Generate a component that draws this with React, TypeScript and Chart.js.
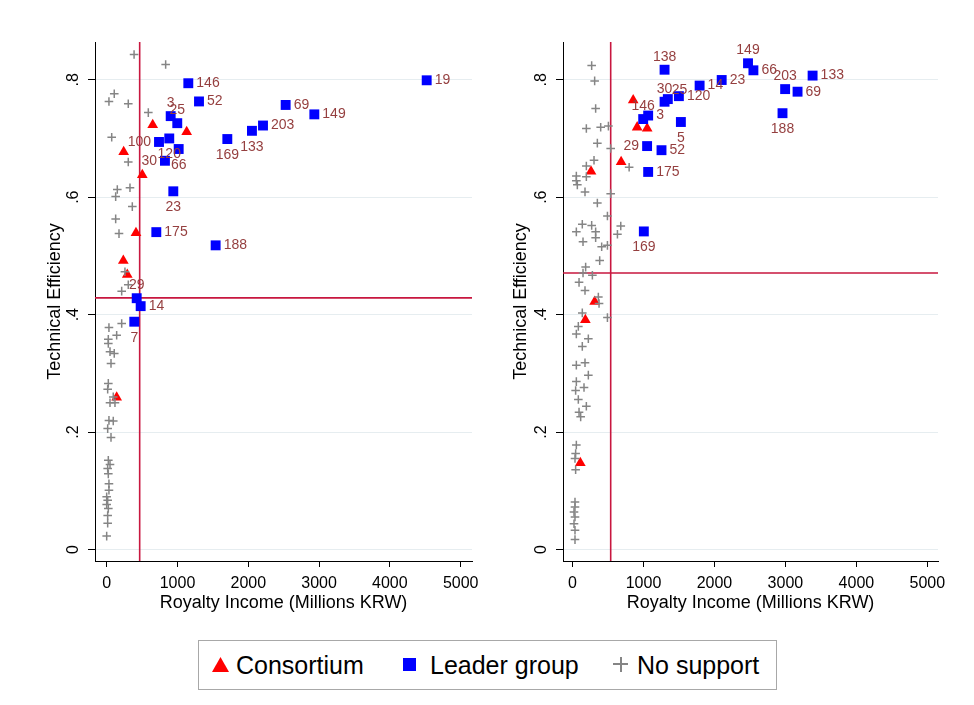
import React, { useEffect, useRef } from "react";
import { Chart, registerables } from "chart.js";

Chart.register(...registerables);

// ---------- shared axis data ----------
const xTicks = [0, 1000, 2000, 3000, 4000, 5000];
const yTicks = [0, 0.2, 0.4, 0.6, 0.8];
const yTickLabels = ["0", ".2", ".4", ".6", ".8"];

const seriesNames = ["Consortium", "Leader group", "No support"];

// ---------- left panel ----------
const leftConsortiumX = [650, 1130, 240, 503, 414, 235, 291, 141];
const leftConsortiumY = [0.723, 0.711, 0.677, 0.638, 0.539, 0.492, 0.468, 0.259];

const leftLeaderIds = ["19", "146", "52", "3", "25", "69", "149", "203", "133", "169", "100", "120", "30", "66", "23", "175", "188", "29", "14", "7"];
const leftLeaderX = [4520, 1153, 1304, 904, 997, 2528, 2933, 2208, 2052, 1704, 739, 884, 823, 1017, 941, 701, 1539, 424, 480, 390];
const leftLeaderY = [0.799, 0.794, 0.763, 0.738, 0.726, 0.757, 0.741, 0.722, 0.713, 0.699, 0.694, 0.7, 0.662, 0.682, 0.61, 0.5405, 0.518, 0.428, 0.4145, 0.388];
const leftLabelPos = [3, 3, 3, 12, 12, 3, 3, 3, 6, 6, 9, 6, 9, 6, 6, 3, 3, 12, 3, 6];

const leftNoSupportX = [387, 833, 107, 32, 305, 588, 71, 305, 150, 329, 127, 362, 127, 174, 258, 305, 212,
  212, 32, 141, 23, 23, 47, 107, 61, 23, 14, 93, 47, 117, 32, 93, 14, 61, 23, 47, 14, 23, 32, 32, 0, 14, 0, 23, 14, 14, 0];
const leftNoSupportY = [0.843, 0.826, 0.776, 0.763, 0.759, 0.744, 0.702, 0.66, 0.613, 0.616, 0.601, 0.584, 0.563, 0.538, 0.473, 0.451, 0.44,
  0.385, 0.378, 0.365, 0.358, 0.351, 0.337, 0.334, 0.317, 0.283, 0.273, 0.26, 0.25, 0.25, 0.22, 0.219, 0.206, 0.191, 0.152, 0.145, 0.138, 0.129, 0.112, 0.101, 0.09, 0.084, 0.077, 0.07, 0.058, 0.045, 0.023];

const leftMeanX = 466;
const leftMeanY = 0.4286;

// ---------- right panel ----------
const rightConsortiumX = [855, 911, 1052, 685, 261, 312, 181, 110];
const rightConsortiumY = [0.765, 0.719, 0.717, 0.66, 0.644, 0.422, 0.391, 0.1475];

const rightLeaderIds = ["138", "14", "23", "30", "25", "120", "146", "3", "5", "29", "52", "175", "169", "149", "66", "203", "69", "133", "188"];
const rightLeaderX = [1297, 1791, 2102, 1297, 1343, 1499, 996, 1066, 1527, 1051, 1254, 1066, 1005, 2473, 2549, 2996, 3171, 3383, 2959];
const rightLeaderY = [0.817, 0.79, 0.7995, 0.7625, 0.767, 0.772, 0.733, 0.739, 0.728, 0.687, 0.68, 0.643, 0.5417, 0.828, 0.816, 0.784, 0.7796, 0.807, 0.743];
const rightLabelPos = [12, 3, 3, 12, 1, 3, 12, 3, 6, 9, 3, 3, 6, 12, 3, 12, 3, 3, 6];

const rightNoSupportX = [270, 312, 326, 195, 397, 506, 350, 538, 798, 303, 195, 54, 54, 195, 68, 176, 538, 350, 492, 680, 633, 138, 270, 54, 326, 326, 148, 411, 492, 383, 185, 148, 280, 92, 176, 364, 374, 492, 138, 82, 54, 223, 138, 54, 176, 223, 54, 162, 44, 82, 195, 92, 115, 54, 44, 35, 44, 35, 35, 21, 35, 21, 35, 35];
const rightNoSupportY = [0.824, 0.798, 0.751, 0.717, 0.719, 0.721, 0.692, 0.683, 0.651, 0.663, 0.653, 0.636, 0.628, 0.635, 0.621, 0.609, 0.606, 0.59, 0.568, 0.551, 0.537, 0.554, 0.552, 0.541, 0.541, 0.531, 0.524, 0.5155, 0.518, 0.492, 0.481, 0.471, 0.467, 0.455, 0.441, 0.43, 0.419, 0.395, 0.403, 0.38, 0.367, 0.359, 0.346, 0.314, 0.318, 0.297, 0.286, 0.276, 0.271, 0.2555, 0.244, 0.234, 0.226, 0.178, 0.1635, 0.155, 0.136, 0.081, 0.0726, 0.064, 0.0556, 0.044, 0.0329, 0.017];

const rightMeanX = 538;
const rightMeanY = 0.471;

// ---------- styles ----------
const FONT = "'Liberation Sans', Arial, Helvetica, sans-serif";
const RED = "#ff0000";
const BLUE = "#0000ff";
const GRAY = "#858585";
const REF = "#c8173f";
const LABEL = "#953f3f";
const GRID = "#e6edf0";

type PanelDef = {
  cx: number[]; cy: number[];
  lx: number[]; ly: number[]; ids: string[]; pos: number[];
  nx: number[]; ny: number[];
  meanX: number; meanY: number;
  xMin: number; xMax: number;
  canvasW: number; axisW: number; padRight: number; yTitlePad: number;
};

const Y_MIN = -0.0194;
const Y_MAX = 0.8642;

const leftPanel: PanelDef = {
  cx: leftConsortiumX, cy: leftConsortiumY,
  lx: leftLeaderX, ly: leftLeaderY, ids: leftLeaderIds, pos: leftLabelPos,
  nx: leftNoSupportX, ny: leftNoSupportY,
  meanX: leftMeanX, meanY: leftMeanY,
  xMin: -165, xMax: 5160,
  canvasW: 480, axisW: 87, padRight: 16, yTitlePad: 36,
};

const rightPanel: PanelDef = {
  cx: rightConsortiumX, cy: rightConsortiumY,
  lx: rightLeaderX, ly: rightLeaderY, ids: rightLeaderIds, pos: rightLabelPos,
  nx: rightNoSupportX, ny: rightNoSupportY,
  meanX: rightMeanX, meanY: rightMeanY,
  xMin: -134, xMax: 5150,
  canvasW: 478, axisW: 75, padRight: 28, yTitlePad: 22,
};

const CANVAS_H = 622;

function zip(xs: number[], ys: number[]) {
  return xs.map((x, i) => ({ x, y: ys[i] }));
}

function makeConfig(p: PanelDef): any {
  const extras = {
    id: "panelExtras",
    beforeDatasetsDraw(chart: any) {
      const { ctx, chartArea: a, scales } = chart;
      const px = scales.x.getPixelForValue(p.meanX);
      const py = scales.y.getPixelForValue(p.meanY);
      ctx.save();
      ctx.strokeStyle = REF;
      ctx.lineWidth = 1.6;
      ctx.beginPath();
      ctx.moveTo(px, a.top);
      ctx.lineTo(px, a.bottom);
      ctx.moveTo(a.left, py);
      ctx.lineTo(a.right, py);
      ctx.stroke();
      ctx.restore();
    },
    afterDatasetsDraw(chart: any) {
      const { ctx } = chart;
      const meta = chart.getDatasetMeta(1);
      ctx.save();
      ctx.fillStyle = LABEL;
      ctx.font = `14px ${FONT}`;
      ctx.textBaseline = "middle";
      meta.data.forEach((pt: any, i: number) => {
        const pos = p.pos[i];
        let tx = pt.x;
        let ty = pt.y;
        let align: CanvasTextAlign = "left";
        if (pos === 3) { tx = pt.x + 8; align = "left"; }
        else if (pos === 9) { tx = pt.x - 8; align = "right"; }
        else if (pos === 12) { ty = pt.y - 13; align = "center"; }
        else if (pos === 6) { ty = pt.y + 16; align = "center"; }
        else if (pos === 1) { tx = pt.x + 4; ty = pt.y - 9; align = "left"; }
        ctx.textAlign = align;
        ctx.fillText(p.ids[i], tx, ty);
      });
      ctx.restore();
    },
    afterDraw(chart: any) {
      const { ctx, chartArea: a, scales } = chart;
      ctx.save();
      ctx.fillStyle = "#000";
      ctx.font = `16px ${FONT}`;
      ctx.textAlign = "center";
      ctx.textBaseline = "middle";
      yTicks.forEach((v, i) => {
        const py = scales.y.getPixelForValue(v);
        ctx.save();
        ctx.translate(a.left - 21, py);
        ctx.rotate(-Math.PI / 2);
        ctx.fillText(yTickLabels[i], 0, 0);
        ctx.restore();
      });
      ctx.restore();
    },
  };

  return {
    type: "scatter",
    data: {
      datasets: [
        {
          label: seriesNames[0],
          data: zip(p.cx, p.cy),
          pointStyle: "triangle",
          pointRadius: 6.2,
          backgroundColor: RED,
          borderColor: RED,
          borderWidth: 0,
          order: 2,
        },
        {
          label: seriesNames[1],
          data: zip(p.lx, p.ly),
          pointStyle: "rect",
          pointRadius: 7,
          backgroundColor: BLUE,
          borderColor: BLUE,
          borderWidth: 0,
          order: 1,
        },
        {
          label: seriesNames[2],
          data: zip(p.nx, p.ny),
          pointStyle: "cross",
          pointRadius: 4.3,
          backgroundColor: GRAY,
          borderColor: GRAY,
          borderWidth: 1.5,
          order: 0,
        },
      ],
    },
    options: {
      animation: false,
      responsive: false,
      maintainAspectRatio: false,
      events: [],
      layout: { padding: { top: 34, right: p.padRight, left: 0, bottom: 0 } },
      plugins: { legend: { display: false }, tooltip: { enabled: false } },
      scales: {
        x: {
          type: "linear",
          min: p.xMin,
          max: p.xMax,
          afterBuildTicks: (s: any) => { s.ticks = xTicks.map((v) => ({ value: v })); },
          afterFit: (s: any) => { s.height = CANVAS_H - 553; },
          grid: { drawOnChartArea: false, drawTicks: true, tickLength: 6, tickColor: "#000", tickWidth: 1 },
          border: { display: true, color: "#000", width: 1 },
          ticks: {
            color: "#000",
            font: { family: FONT, size: 16 },
            padding: 7,
            maxRotation: 0,
            autoSkip: false,
            callback: (v: any) => String(v),
          },
          title: {
            display: true,
            text: "Royalty Income (Millions KRW)",
            color: "#000",
            font: { family: FONT, size: 18 },
            padding: { top: 0, bottom: 16 },
          },
        },
        y: {
          type: "linear",
          min: Y_MIN,
          max: Y_MAX,
          afterBuildTicks: (s: any) => { s.ticks = yTicks.map((v) => ({ value: v })); },
          afterFit: (s: any) => { s.width = p.axisW; },
          grid: { color: GRID, lineWidth: 1, drawTicks: true, tickLength: 7, tickColor: "#000", tickWidth: 1 },
          border: { display: true, color: "#000", width: 1 },
          ticks: { display: false },
          title: {
            display: true,
            text: "Technical Efficiency",
            color: "#000",
            font: { family: FONT, size: 18 },
            padding: { top: p.yTitlePad, bottom: 0 },
          },
        },
      },
    },
    plugins: [extras],
  };
}

function Panel({ panel, left }: { panel: PanelDef; left: number }) {
  const ref = useRef<HTMLCanvasElement>(null);
  useEffect(() => {
    const chart = new Chart(ref.current as HTMLCanvasElement, makeConfig(panel));
    return () => chart.destroy();
  }, [panel]);
  return (
    <canvas
      ref={ref}
      width={panel.canvasW}
      height={CANVAS_H}
      style={{ position: "absolute", left, top: 0, width: panel.canvasW, height: CANVAS_H }}
    />
  );
}

function Legend() {
  const text: React.CSSProperties = {
    position: "absolute",
    top: 12,
    fontFamily: FONT,
    fontSize: 25,
    lineHeight: "25px",
    color: "#000",
    whiteSpace: "nowrap",
  };
  return (
    <div
      style={{
        position: "absolute",
        left: 190,
        top: 632,
        width: 579,
        height: 50,
        boxSizing: "border-box",
        border: "1px solid #a8a8a8",
        background: "#fff",
      }}
    >
      <div
        style={{
          position: "absolute",
          left: 13,
          top: 16,
          width: 17,
          height: 15,
          background: RED,
          clipPath: "polygon(50% 0, 100% 100%, 0 100%)",
        }}
      />
      <span style={{ ...text, left: 37 }}>{seriesNames[0]}</span>
      <div style={{ position: "absolute", left: 204, top: 17, width: 13, height: 13, background: BLUE }} />
      <span style={{ ...text, left: 231 }}>{seriesNames[1]}</span>
      <div style={{ position: "absolute", left: 414, top: 22, width: 15, height: 2, background: GRAY }} />
      <div style={{ position: "absolute", left: 420.5, top: 15.5, width: 2, height: 15, background: GRAY }} />
      <span style={{ ...text, left: 438 }}>{seriesNames[2]}</span>
    </div>
  );
}

export default function App() {
  return (
    <div style={{ position: "relative", width: 958, height: 689, background: "#fff" }}>
      <Panel panel={leftPanel} left={0} />
      <Panel panel={rightPanel} left={480} />
      <Legend />
    </div>
  );
}
